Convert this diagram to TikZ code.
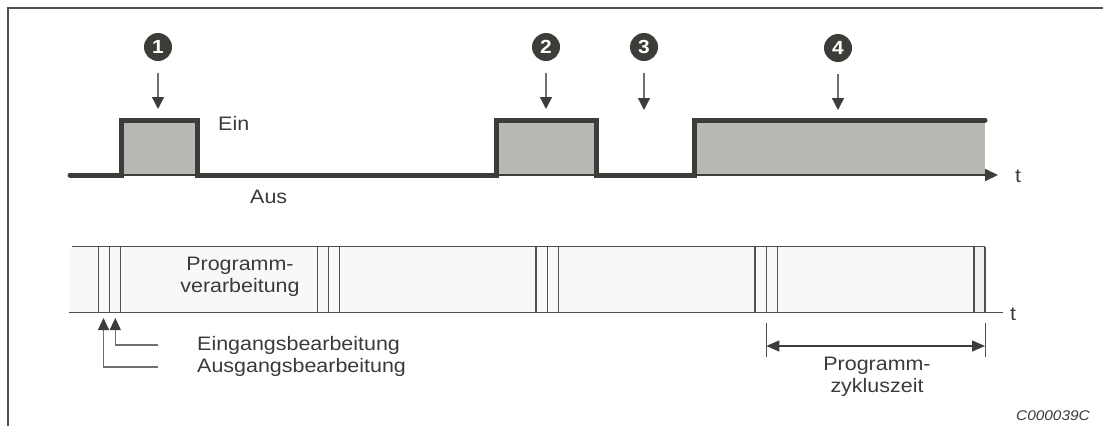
\documentclass[tikz,border=0pt]{standalone}
\usepackage{fontspec}
\setmainfont{Liberation Sans}[FakeStretch=1.1]
\usetikzlibrary{arrows.meta}
\definecolor{ink}{HTML}{3C3C38}
\definecolor{pulsefill}{HTML}{B9B8B4}
\definecolor{barfill}{HTML}{F8F8F8}
\definecolor{thinline}{HTML}{505050}
\definecolor{leadline}{HTML}{707070}
\definecolor{txt}{HTML}{3A3A3A}
\begin{document}
\begin{tikzpicture}[x=1pt,y=-1pt,
  font=\fontsize{19.5}{22}\selectfont,
  marker/.style={circle, fill=ink, text=white, inner sep=0pt, minimum size=28pt,
    font=\fontsize{19}{19}\selectfont\bfseries},
  lbl/.style={inner sep=0pt, text=txt},
  darrow/.style={draw=leadline, line width=1.3pt, shorten <=12pt,
    -{Triangle[length=12pt,width=12pt,fill=ink,color=ink]}},
  uarrow/.style={draw=leadline, line width=1.2pt,
    -{Triangle[length=12pt,width=11pt,fill=ink,color=ink]}},
  dimarrow/.style={draw=ink, line width=1.3pt,
    {Triangle[length=13pt,width=11pt]}-{Triangle[length=13pt,width=11pt]}},
  signal/.style={draw=ink, line width=5pt, line cap=round},
  slice/.style={draw=thinline, line width=1.2pt},
  frameline/.style={draw=thinline, line width=1.5pt}]
\useasboundingbox (0,0) rectangle (1103,426);
% frame
\draw[frameline] (8,426) -- (8,8) -- (1103,8);
% pulse fills
\fill[pulsefill] (121,120) rectangle (197,175);
\fill[pulsefill] (496,120) rectangle (596,175);
\fill[pulsefill] (694,120) rectangle (985,175);
% time axis
\coordinate (ax0) at (70,175);
\coordinate (ax1) at (998,175);
\draw[ink, line width=1.8pt, -{Triangle[length=13pt,width=12pt]}] (ax0) -- (ax1);
\node[lbl] (t1) at (1018,176) {t};
% signal
\draw[signal] (ax0) -- (121,175) -- (121,120) -- (197,120) -- (197,175) -- (496,175)
  -- (496,120) -- (596,120) -- (596,175) -- (694,175) -- (694,120) -- (985,120);
\node[lbl, anchor=west] (ein) at (218,123) {Ein};
\node[lbl, anchor=west] (aus) at (250,197) {Aus};
% markers
\node[marker] (m1) at (158,47) {1};
\node[marker] (m2) at (546,47) {2};
\node[marker] (m3) at (644,47) {3};
\node[marker] (m4) at (838,48) {4};
\coordinate (a1) at (158,109);
\coordinate (a2) at (546,109);
\coordinate (a3) at (644,110);
\coordinate (a4) at (838,110);
\draw[darrow] (m1) -- (a1);
\draw[darrow] (m2) -- (a2);
\draw[darrow] (m3) -- (a3);
\draw[darrow] (m4) -- (a4);
% processing bar
\fill[barfill] (70,246.5) rectangle (985,312.5);
\fill[black!6] (974,246.5) rectangle (985,312.5);
\draw[slice, line width=1.5pt] (72,246.5) -- (985,246.5);
\foreach \x in {98.7,109.7,120.7,317.5,328.7,339.3,536,547.3,558.3,755,766.3,777.3,974,985}
  \draw[slice] (\x,246.5) -- (\x,312.5);
\coordinate (b0) at (69,312.5);
\coordinate (b1) at (1003,312.5);
\draw[slice, line width=1.5pt] (b0) -- (b1);
\node[lbl] (t2) at (1013,314) {t};
\node[lbl, align=center] (prog) at (240,277) {Programm-\\verarbeitung};
% input / output processing
\node[lbl, anchor=west] (eing) at (197,345) {Eingangsbearbeitung};
\node[lbl, anchor=west] (ausg) at (197,367) {Ausgangsbearbeitung};
\coordinate (ti) at (115.3,318);
\coordinate (to) at (103.5,318);
\draw[uarrow] ([xshift=-39pt]eing.west) -| (ti);
\draw[uarrow] ([xshift=-39pt]ausg.west) -| (to);
% cycle time
\coordinate (c1t) at (766.3,323);
\coordinate (c1b) at (766.3,357);
\coordinate (c2t) at (985,323);
\coordinate (c2b) at (985,357);
\draw[slice, line width=1pt] (c1t) -- (c1b);
\draw[slice, line width=1pt] (c2t) -- (c2b);
\coordinate (d1) at (766.3,346);
\coordinate (d2) at (985,346);
\draw[dimarrow] (d1) -- (d2);
\node[lbl, align=center] (zyk) at (877,377) {Programm-\\zykluszeit};
\node[lbl, anchor=east, font=\fontsize{14}{14}\selectfont\itshape] (code) at (1090,416) {C000039C};
\end{tikzpicture}
\end{document}
